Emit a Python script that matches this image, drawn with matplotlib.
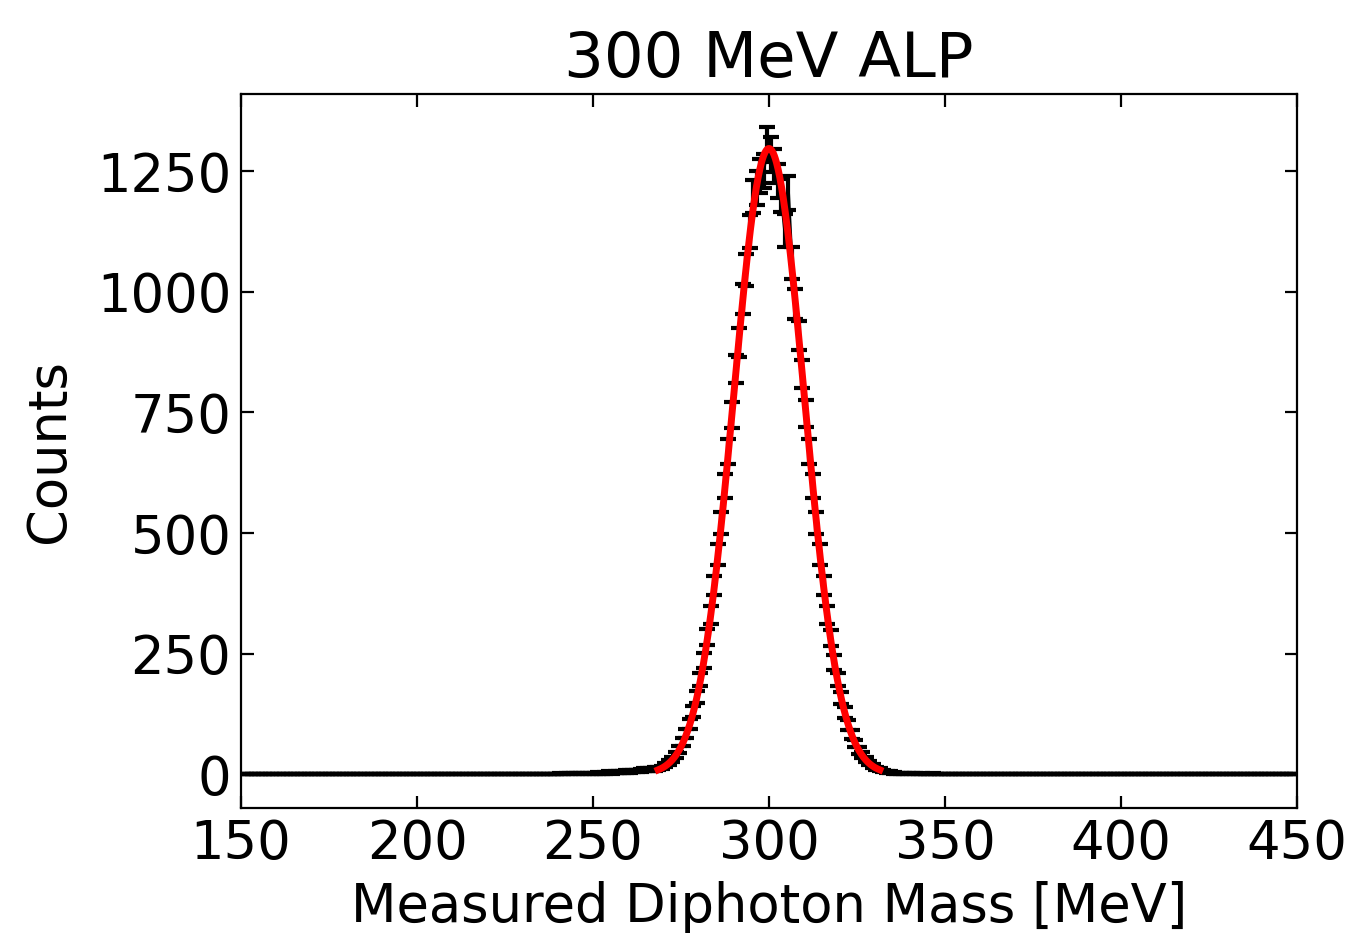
import matplotlib
matplotlib.use("Agg")
import matplotlib.pyplot as plt
import numpy as np

# histogram: 1 MeV bins from 150 to 450, counts
bin_lo, bin_hi = 150, 450
# counts for bins 240..259 (low-mass tail)
tail_left = [1, 0, 1, 1, 2, 1, 1, 2, 2, 1, 2, 3, 2, 3, 4, 3, 4, 4, 5, 6]
# counts for bins 260..339 (peak region)
peak_counts = [
    6, 7, 7, 8, 9, 9, 10, 11, 12, 14,
    19, 24, 31, 40, 52, 66, 84, 105, 131, 160,
    196, 236, 284, 330, 392, 455, 520, 598, 668, 745,
    840, 895, 985, 1045, 1125, 1198, 1215, 1240, 1250, 1305,
    1285, 1260, 1230, 1200, 1127, 1205, 1060, 975, 910, 830,
    748, 668, 598, 520, 455, 392, 330, 283, 232, 196,
    158, 128, 102, 82, 64, 50, 40, 30, 23, 17,
    12, 9, 7, 5, 4, 3, 2, 2, 1, 1,
]
# counts for bins 340..349
tail_right = [1, 1, 0, 1, 0, 0, 1, 0, 0, 0]

# gaussian fit parameters
fit_amp, fit_mu, fit_sigma = 1297.0, 300.0, 10.0
fit_range = (268.5, 331.5)

edges = np.arange(bin_lo, bin_hi + 1, 1.0)
centers = 0.5 * (edges[:-1] + edges[1:])
counts = np.zeros(len(centers))
counts[240 - bin_lo:260 - bin_lo] = tail_left
counts[260 - bin_lo:340 - bin_lo] = peak_counts
counts[340 - bin_lo:350 - bin_lo] = tail_right
errors = np.sqrt(counts)

plt.rcParams['font.family'] = 'DejaVu Sans'
fig = plt.figure(figsize=(6.79, 4.695), dpi=200)
ax = fig.add_axes([0.1775, 0.1395, 0.955 - 0.1775, 0.8999 - 0.1395])

ax.errorbar(centers, counts, yerr=errors, fmt='-', color='black', lw=1.2,
            elinewidth=1.5, capsize=3.0, capthick=1.5)

xf = np.linspace(fit_range[0], fit_range[1], 400)
yf = fit_amp * np.exp(-0.5 * ((xf - fit_mu) / fit_sigma) ** 2)
ax.plot(xf, yf, color='red', lw=2.5, zorder=5)

ax.set_xlim(150, 450)
ax.set_ylim(-70, 1410)
ax.set_xticks([150, 200, 250, 300, 350, 400, 450])
ax.set_yticks([0, 250, 500, 750, 1000, 1250])
ax.tick_params(direction='in', top=True, right=True, labelsize=19, length=4.5)

ax.set_xlabel('Measured Diphoton Mass [MeV]', fontsize=19)
ax.set_ylabel('Counts', fontsize=19, labelpad=8)
ax.set_title('300 MeV ALP', fontsize=22.5)

fig.savefig('out.png', dpi=200)
